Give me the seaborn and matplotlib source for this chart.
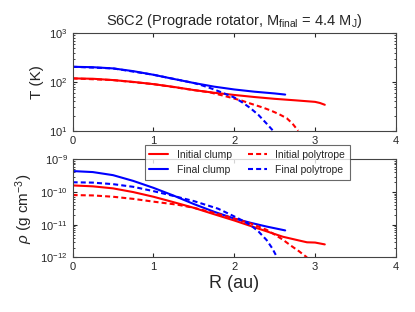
import matplotlib
matplotlib.use("Agg")
import matplotlib.pyplot as plt
import seaborn as sns

# temperature profiles (R in au, T in K)
r_t_ic = [0.0, 0.25, 0.5, 0.75, 1.0, 1.25, 1.5, 1.75, 2.0, 2.25, 2.5, 2.75, 3.0, 3.06, 3.12]
t_ic = [118, 116, 109, 100, 90, 79, 68, 60, 54, 49, 45, 42, 39, 37, 34]
r_t_fc = [0.0, 0.25, 0.5, 0.75, 1.0, 1.25, 1.5, 1.75, 2.0, 2.25, 2.5, 2.63]
t_fc = [204, 200, 189, 166, 140, 115, 95, 80, 70, 63, 58, 55]
r_t_ip = [0.0, 0.5, 1.0, 1.5, 1.7, 1.85, 1.95, 2.1, 2.2, 2.35, 2.45, 2.55, 2.65, 2.72, 2.79]
t_ip = [118, 109, 90, 68, 61, 53, 48, 41, 36, 30, 26, 22, 18, 14, 10]
r_t_fp = [0.0, 0.5, 1.0, 1.5, 1.6, 1.7, 1.8, 1.9, 2.0, 2.1, 2.2, 2.3, 2.4, 2.48]
t_fp = [204, 189, 140, 95, 85, 75, 65, 56, 48, 38, 29, 21, 14, 10]

# density profiles (R in au, rho in g cm^-3)
r_d_ic = [0.0, 0.25, 0.5, 0.75, 1.0, 1.25, 1.5, 1.75, 2.0, 2.3, 2.6, 2.8, 2.9, 3.0, 3.12]
d_ic = [1.6e-10, 1.5e-10, 1.3e-10, 1.0e-10, 7.2e-11, 4.9e-11, 3.3e-11, 2.1e-11, 1.35e-11,
        7.6e-12, 4.3e-12, 3.3e-12, 2.9e-12, 2.85e-12, 2.5e-12]
r_d_fc = [0.0, 0.25, 0.5, 0.75, 1.0, 1.25, 1.5, 1.75, 2.0, 2.2, 2.4, 2.63]
d_fc = [4.4e-10, 4.1e-10, 3.3e-10, 2.2e-10, 1.35e-10, 7.8e-11, 4.3e-11, 2.5e-11, 1.55e-11,
        1.15e-11, 8.8e-12, 6.7e-12]
r_d_ip = [0.0, 0.25, 0.5, 0.75, 1.0, 1.3, 1.5, 1.75, 2.0, 2.2, 2.4, 2.5, 2.6, 2.7, 2.8, 2.9]
d_ip = [8.1e-11, 7.9e-11, 7.2e-11, 6.2e-11, 5.1e-11, 4.1e-11, 3.3e-11, 2.3e-11, 1.55e-11,
        1.1e-11, 7.0e-12, 5.0e-12, 3.5e-12, 2.3e-12, 1.55e-12, 1.0e-12]
r_d_fp = [0.0, 0.25, 0.5, 0.75, 1.0, 1.25, 1.5, 1.8, 2.0, 2.1, 2.2, 2.3, 2.4, 2.47, 2.53]
d_fp = [2.0e-10, 1.95e-10, 1.75e-10, 1.45e-10, 1.07e-10, 7.6e-11, 5.3e-11, 3.1e-11, 1.8e-11,
        1.35e-11, 9.8e-12, 6.2e-12, 3.4e-12, 1.9e-12, 1.0e-12]

labels = ["Initial clump", "Final clump", "Initial polytrope", "Final polytrope"]
colors = ["red", "blue", "red", "blue"]
dash = (0, (2.4, 1.5))
styles = ["-", "-", dash, dash]

sns.set_style("ticks")
plt.rcParams["font.family"] = ["Liberation Sans", "DejaVu Sans"]
plt.rcParams["mathtext.fontset"] = "custom"
plt.rcParams["mathtext.rm"] = "Liberation Sans"
plt.rcParams["mathtext.it"] = "Liberation Sans:italic"
plt.rcParams["xtick.direction"] = "in"
plt.rcParams["ytick.direction"] = "in"

fig = plt.figure(figsize=(4.15, 3.12), dpi=100)
ax1 = fig.add_axes([0.175, 0.581, 0.779, 0.313])
ax2 = fig.add_axes([0.175, 0.175, 0.779, 0.314])

temp = [(r_t_ic, t_ic), (r_t_fc, t_fc), (r_t_ip, t_ip), (r_t_fp, t_fp)]
dens = [(r_d_ic, d_ic), (r_d_fc, d_fc), (r_d_ip, d_ip), (r_d_fp, d_fp)]

for (r, t), c, ls in zip(temp, colors, styles):
    sns.lineplot(x=r, y=t, ax=ax1, color=c, linestyle=ls, linewidth=1.5)
for (r, d), lab, c, ls in zip(dens, labels, colors, styles):
    sns.lineplot(x=r, y=d, ax=ax2, color=c, linestyle=ls, linewidth=1.5, label=lab)

ax1.set_yscale("log")
ax1.set_ylim(10, 1000)
ax2.set_yscale("log")
ax2.set_ylim(1e-12, 1e-9)
for ax in (ax1, ax2):
    ax.set_xlim(0, 4)
    ax.set_xticks([0, 1, 2, 3, 4])
    ax.tick_params(which="both", top=True, right=True, labelsize=8, length=3)
    ax.tick_params(which="minor", length=1.5)
    for s in ax.spines.values():
        s.set_color("#444444")
        s.set_linewidth(0.8)

ax1.set_ylabel("T (K)", fontsize=11)
ax2.set_ylabel(r"$\rho$ (g cm$^{-3}$)", fontsize=11)
ax2.set_xlabel("R (au)", fontsize=13, labelpad=2)
ax1.set_title(r"S6C2 (Prograde rotator, M$_{\rm final}$ = 4.4 M$_{\rm J}$)", fontsize=10.5, pad=6)

h, l = ax2.get_legend_handles_labels()
ax2.get_legend().remove()
leg = fig.legend(h, l, ncol=2, loc="upper center", bbox_to_anchor=(0.596, 0.535),
                 borderaxespad=0, fontsize=7.5, frameon=True, fancybox=False,
                 handlelength=1.8, columnspacing=1.6, borderpad=0.45, labelspacing=0.5)
leg.get_frame().set_edgecolor("#444444")
leg.get_frame().set_linewidth(0.8)

fig.savefig("out.png", dpi=100)
